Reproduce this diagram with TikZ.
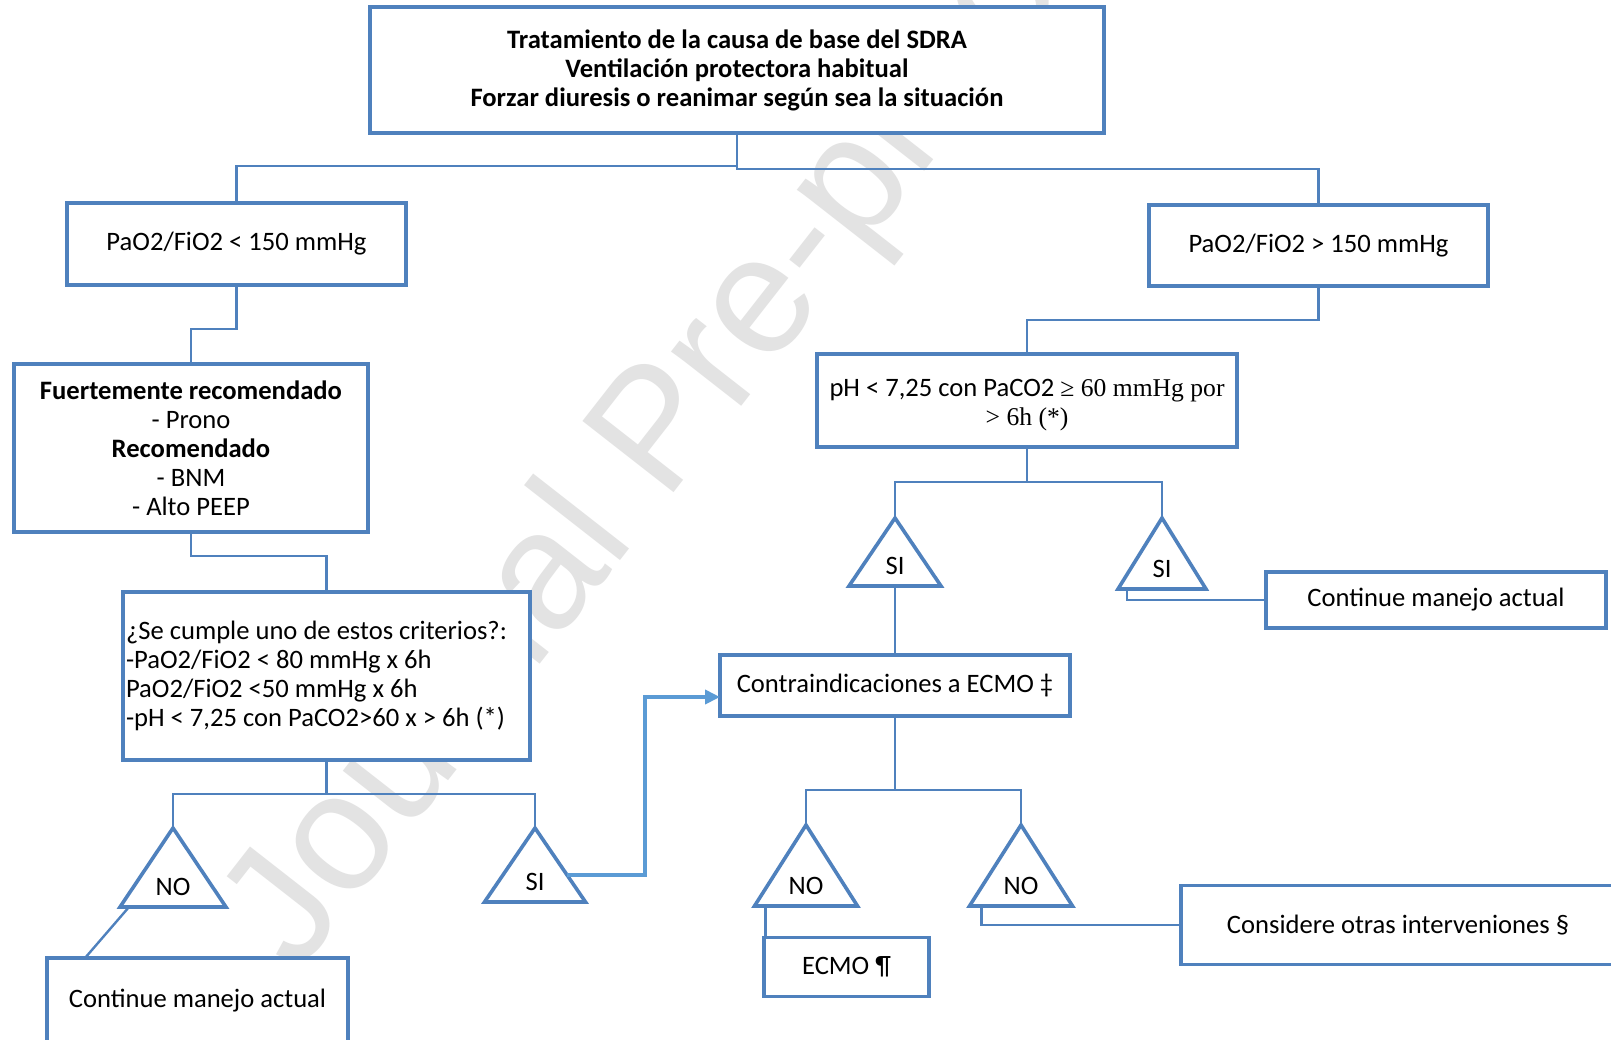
\documentclass[tikz,border=0pt]{standalone}
\usepackage{fontspec}
\setmainfont{Carlito}
\newfontfamily\serifpart{Liberation Serif}
\newfontfamily\wmfont{Liberation Sans}
\usetikzlibrary{arrows.meta,calc}
\definecolor{boxblue}{HTML}{4F81BD}
\definecolor{arrowblue}{HTML}{5B9BD5}
\definecolor{wmgray}{HTML}{E3E3E3}
\newcommand\bodyfont{\fontsize{13.3}{14.5}\selectfont}
% decision triangle: name, centre x, apex y, base y, half width, label
\newcommand\decision[6]{%
  \coordinate (#1-top) at (#2,#3);
  \coordinate (#1-bl) at ({#2-#5},#4);
  \coordinate (#1-br) at ({#2+#5},#4);
  \coordinate (#1-bm) at (#2,#4);
  \draw[tri] (#1-top) -- (#1-br) -- (#1-bl) -- cycle;
  \node[trilabel] (#1) at (#2,{#4-20}) {#6};
}
\begin{document}
\begin{tikzpicture}[x=0.5pt,y=-0.5pt,
  box/.style={draw=boxblue, line width=1.8pt, fill=white, inner sep=1.5pt,
    outer sep=0pt, align=center, font=\bodyfont},
  conn/.style={draw=boxblue, line width=1.2pt},
  flowarrow/.style={draw=arrowblue, line width=2pt,
    -{Triangle[length=7.5pt,width=7pt]}},
  tri/.style={draw=boxblue, line width=1.8pt, fill=white, line join=miter},
  trilabel/.style={font=\bodyfont, inner sep=0pt},
  wm/.style={text=wmgray, font=\wmfont\fontsize{84}{84}\selectfont, inner sep=0pt}]

\useasboundingbox (0,0) rectangle (1611,1039);
\clip (0,0) rectangle (1611,1039);
\fill[white] (0,0) rectangle (1611,1039);

% watermark behind everything
\node[wm, rotate=52, anchor=base west] (wmark) at (297,975) {Journal Pre-proof};

% boxes
\node[box, minimum width=367pt, minimum height=63pt, font=\bodyfont\bfseries] (top) at (737,70)
  {Tratamiento de la causa de base del SDRA\\Ventilación protectora habitual\\Forzar diuresis o reanimar según sea la situación};
\node[box, minimum width=169.5pt, minimum height=41pt] (L150) at (236.5,244) {PaO2/FiO2 < 150 mmHg};
\node[box, minimum width=169.5pt, minimum height=40.5pt] (R150) at (1318.5,245.5) {PaO2/FiO2 > 150 mmHg};
\node[box, minimum width=177pt, minimum height=84pt] (fuerte) at (191,448)
  {\textbf{Fuertemente recomendado}\\- Prono\\\textbf{Recomendado}\\- BNM\\- Alto PEEP};
\node[box, minimum width=203.5pt, minimum height=84pt, text width=200.5pt, align=flush left] (crit) at (326.5,676)
  {¿Se cumple uno de estos criterios?:\\-PaO2/FiO2 < 80 mmHg x 6h\\PaO2/FiO2 <50 mmHg x 6h\\-pH < 7,25 con PaCO2>60 x > 6h (*)};
\node[box, minimum width=210pt, minimum height=46.5pt] (ph) at (1027,400.5)
  {\rule{0pt}{13.5pt}pH < 7,25 con PaCO2 {\serifpart\fontsize{12.8}{14.5}\selectfont ≥ 60 mmHg por}\\{\serifpart\fontsize{12.8}{14.5}\selectfont > 6h (*)}};
\node[box, minimum width=175pt, minimum height=30.5pt] (contra) at (895,685.5) {Contraindicaciones a ECMO ‡};
\node[box, minimum width=170pt, minimum height=28pt] (contR) at (1436,600) {Continue manejo actual};
\node[box, minimum width=150.5pt, minimum height=43pt] (contL) at (197.5,1001) {Continue manejo actual};
\node[box, minimum width=82.5pt, minimum height=29.5pt] (ecmo) at (846.5,967) {ECMO ¶};
\node[box, minimum width=217pt, minimum height=39.5pt] (consid) at (1398,925) {Considere otras interveniones §};

% decision triangles
\decision{tNO1}{173}{828}{907}{53}{NO}
\decision{tSI1}{535}{828}{902}{50.5}{SI}
\decision{tSI2}{895}{518}{586}{46}{SI}
\decision{tSI3}{1162}{518}{589}{44}{SI}
\decision{tNO2}{806}{825}{906}{51.5}{NO}
\decision{tNO3}{1021}{825}{906}{51.5}{NO}

% connectors
\draw[conn] (top.south) -- ++(0,33) -| (L150.north);
\draw[conn] (top.south) -- ++(0,36) -| (R150.north);
\draw[conn] (L150.south) -- ++(0,44) -| (fuerte.north);
\draw[conn] (fuerte.south) -- ++(0,24) -| (crit.north);
\draw[conn] (crit.south) -- ++(0,34) -| (tNO1-top);
\draw[conn] (crit.south) -- ++(0,34) -| (tSI1-top);
\coordinate (n1foot) at ($(tNO1-bl)!0.085!(tNO1-br)$);
\draw[conn] (n1foot) -- ($(contL.north west)+(38,0)$);
\coordinate (siout) at ($(tSI1-top)!0.635!(tSI1-br)$);
\draw[flowarrow] (siout) -| ($(contra.west)+(-75,11.5)$) -- ($(contra.west)+(0,11.5)$);

\draw[conn] (R150.south) -- ++(0,34) -| (ph.north);
\draw[conn] (ph.south) -- ++(0,35) -| (tSI2-top);
\draw[conn] (ph.south) -- ++(0,35) -| (tSI3-top);
\draw[conn] (tSI2-bm) -- (contra.north);
\coordinate (s3foot) at ($(tSI3-bl)!0.1!(tSI3-br)$);
\draw[conn] (s3foot) |- (contR.west);

\draw[conn] (contra.south) -- ++(0,74) -| (tNO2-top);
\draw[conn] (contra.south) -- ++(0,74) -| (tNO3-top);
\coordinate (n2foot) at ($(tNO2-bl)!0.107!(tNO2-br)$);
\draw[conn] (n2foot) -- (n2foot |- ecmo.north);
\coordinate (n3foot) at ($(tNO3-bl)!0.117!(tNO3-br)$);
\draw[conn] (n3foot) |- (consid.west);
\end{tikzpicture}
\end{document}
